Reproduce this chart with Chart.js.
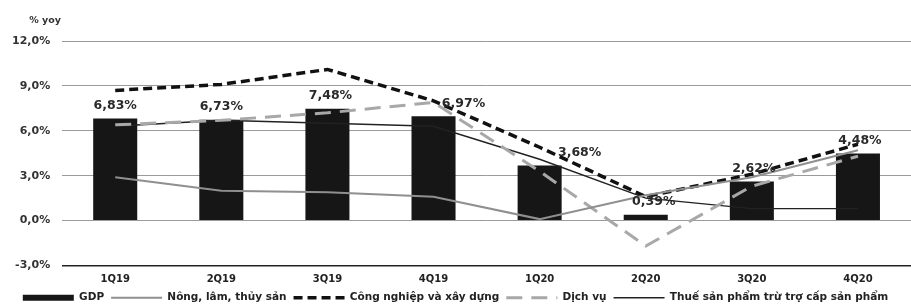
<!DOCTYPE html>
<html>
<head>
<meta charset="utf-8">
<script src="https://cdn.jsdelivr.net/npm/chart.js@4"></script>
<style>
  html, body { margin: 0; padding: 0; background: #fff; }
  #wrap { width: 911px; height: 305px; }
</style>
</head>
<body>
<div id="wrap"><canvas id="graficoGDP"></canvas></div>
<script>
// Dữ liệu
const quarters = ['1Q19', '2Q19', '3Q19', '4Q19', '1Q20', '2Q20', '3Q20', '4Q20'];
const gdp = [6.83, 6.73, 7.48, 6.97, 3.68, 0.39, 2.62, 4.48];
const nongLamThuySan = [2.9, 2.0, 1.9, 1.6, 0.1, 1.7, 2.9, 4.7];
const congNghiepXayDung = [8.7, 9.1, 10.1, 8.0, 4.9, 1.6, 3.1, 5.1];
const dichVu = [6.4, 6.7, 7.2, 7.9, 3.3, -1.7, 2.3, 4.3];
const thueSanPham = [6.3, 6.7, 6.5, 6.3, 4.1, 1.5, 0.8, 0.8];
const yTicks = [-3, 0, 3, 6, 9, 12];

const fmt = v => v.toFixed(1).replace('.', ',') + '%';
const fmt2 = v => v.toFixed(2).replace('.', ',') + '%';

// nhãn trên cột GDP (lệch ngang chút như bản gốc)
const labelShift = [0, 0, 3, 30, 40, 8, 2, 2];
const nhanCot = {
    id: 'nhanCot',
    afterDatasetsDraw(chart) {
        const ctx = chart.ctx;
        const meta = chart.getDatasetMeta(0);
        ctx.save();
        ctx.font = 'bold 12.5px "DejaVu Sans"';
        ctx.fillStyle = '#2a2a2a';
        ctx.textAlign = 'center';
        ctx.textBaseline = 'middle';
        meta.data.forEach((bar, i) => {
            ctx.fillText(fmt2(gdp[i]), bar.x + labelShift[i], bar.y - 13);
        });
        // nhãn trục
        ctx.font = 'bold 9.5px "DejaVu Sans"';
        ctx.fillStyle = '#333';
        ctx.fillText('% yoy', 45, 21);
        ctx.restore();
    }
};

const ctxGDP = document.getElementById('graficoGDP').getContext('2d');
const graficoGDP = new Chart(ctxGDP, {
    data: {
        labels: quarters,
        datasets: [{
            type: 'bar',
            label: 'GDP',
            data: gdp,
            backgroundColor: '#161616',
            barPercentage: 0.415,
            categoryPercentage: 1,
            order: 1
        }, {
            type: 'line',
            label: 'Nông, lâm, thủy sản',
            data: nongLamThuySan,
            borderColor: '#8f8f8f',
            borderWidth: 2,
            pointRadius: 0,
            order: 0
        }, {
            type: 'line',
            label: 'Công nghiệp và xây dựng',
            data: congNghiepXayDung,
            borderColor: '#111',
            borderWidth: 3.5,
            borderDash: [9, 5],
            pointRadius: 0,
            order: 0
        }, {
            type: 'line',
            label: 'Dịch vụ',
            data: dichVu,
            borderColor: '#a8a8a8',
            borderWidth: 3,
            borderDash: [16, 9],
            pointRadius: 0,
            order: 0
        }, {
            type: 'line',
            label: 'Thuế sản phẩm trừ trợ cấp sản phẩm',
            data: thueSanPham,
            borderColor: '#222',
            borderWidth: 1.4,
            pointRadius: 0,
            order: 0
        }]
    },
    options: {
        responsive: true,
        maintainAspectRatio: false,
        animation: false,
        layout: { padding: { left: 0, right: 0, top: 41, bottom: -8 } },
        scales: {
            x: {
                grid: { display: false },
                border: { display: false },
                ticks: {
                    color: '#222',
                    padding: 0,
                    font: { family: 'DejaVu Sans', size: 10, weight: 'bold' }
                }
            },
            y: {
                min: -3,
                max: 12,
                afterBuildTicks: axis => { axis.ticks = yTicks.map(v => ({ value: v })); },
                border: { display: false },
                grid: {
                    drawTicks: false,
                    color: c => c.tick && c.tick.value === -3 ? '#222' : '#9a9a9a',
                    lineWidth: c => c.tick && c.tick.value === -3 ? 1.6 : 1
                },
                ticks: {
                    color: '#333',
                    padding: 12,
                    font: { family: 'DejaVu Sans', size: 11, weight: 'bold' },
                    callback: v => fmt(v)
                }
            }
        },
        plugins: {
            tooltip: { enabled: false },
            legend: {
                position: 'bottom',
                labels: {
                    usePointStyle: true,
                    pointStyleWidth: 51,
                    boxHeight: 8,
                    padding: 7,
                    color: '#222',
                    font: { family: 'DejaVu Sans', size: 10.5, weight: 'bold' },
                    sort: (a, b) => a.datasetIndex - b.datasetIndex,
                    generateLabels: chart => chart.data.datasets.map((ds, i) => ({
                        text: ds.label,
                        datasetIndex: i,
                        pointStyle: 'line',
                        strokeStyle: ds.type === 'bar' ? ds.backgroundColor : ds.borderColor,
                        fillStyle: ds.type === 'bar' ? ds.backgroundColor : ds.borderColor,
                        lineWidth: ds.type === 'bar' ? 6 : ds.borderWidth,
                        lineDash: ds.borderDash || [],
                        fontColor: '#222',
                        hidden: false
                    }))
                }
            }
        }
    },
    plugins: [nhanCot]
});
</script>
</body>
</html>
